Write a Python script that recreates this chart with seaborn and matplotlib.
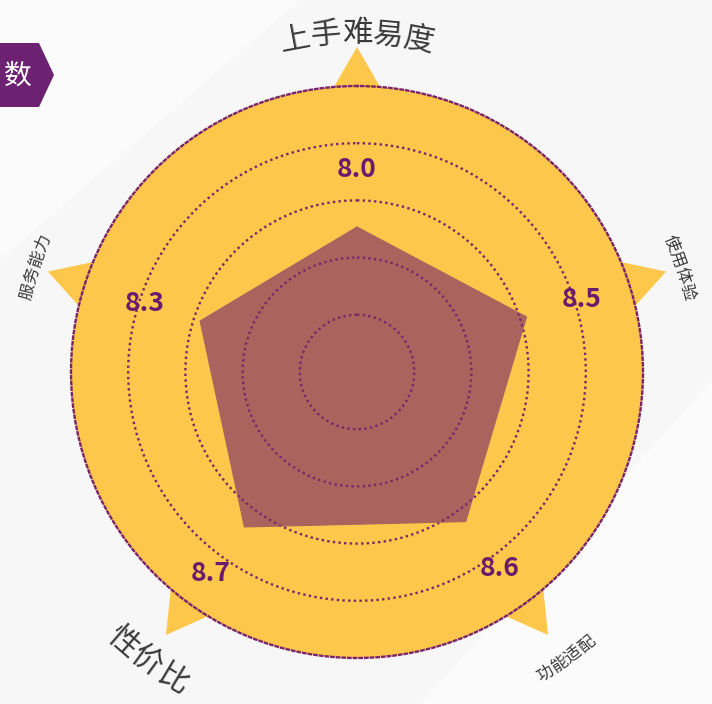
import numpy as np
import pandas as pd
import matplotlib.pyplot as plt
from matplotlib.patches import Polygon
import seaborn as sns

categories = ['上手难易度', '使用体验', '功能适配', '性价比', '服务能力']
scores = [8.0, 8.5, 8.6, 8.7, 8.3]
label_sizes = [22, 12, 12, 22, 12]

YELLOW = '#fdc74b'
BROWN = '#a9645e'
PURPLE = '#6a1b6c'
DOT = '#7a2569'

sns.set_theme(style='white')
plt.rcParams['font.family'] = ['Noto Sans CJK SC', 'DejaVu Sans']

W, H = 712, 704
cx, cy, R = 357, 372, 286          # centre and radius of the disc, in pixels
rmin, rmax = 5.82, 10.12

fig = plt.figure(figsize=(W / 100, H / 100), dpi=100)
fig.patch.set_facecolor('#f7f7f7')

# background layer: star points and the corner tag
bg = fig.add_axes([0, 0, 1, 1])
bg.set_xlim(0, W)
bg.set_ylim(H, 0)
bg.axis('off')
bg.add_patch(Polygon([(0, 0), (300, 0), (0, 260)], color='white', alpha=0.5, lw=0))
bg.add_patch(Polygon([(712, 380), (712, 704), (420, 704)], color='white', alpha=0.5, lw=0))

n = len(categories)
thetas = np.arange(n) * 2 * np.pi / n
for t in thetas:
    ux, uy = np.sin(t), -np.cos(t)        # screen direction of the axis
    px, py = -uy, ux
    tip = (cx + 325 * ux, cy + 325 * uy)
    half = (325 - 190) * np.tan(np.radians(30))
    b1 = (cx + 190 * ux + half * px, cy + 190 * uy + half * py)
    b2 = (cx + 190 * ux - half * px, cy + 190 * uy - half * py)
    bg.add_patch(Polygon([tip, b1, b2], color=YELLOW, lw=0))

bg.add_patch(Polygon([(0, 43), (39, 43), (54, 75), (39, 107), (0, 107)], color='#6d2171', lw=0))
bg.text(18, 76, '数', color='white', fontsize=20, ha='center', va='center')

# radar
ax = fig.add_axes([(cx - R) / W, (H - cy - R) / H, 2 * R / W, 2 * R / H], projection='polar')
ax.set_facecolor(YELLOW)
ax.set_theta_zero_location('N')
ax.set_theta_direction(-1)
ax.set_ylim(rmin, rmax)
ax.set_axisbelow('line')
ax.set_xticks([])
ax.set_yticks(rmin + (rmax - rmin) * np.array([0.2, 0.4, 0.6, 0.8]))
ax.set_yticklabels([])
ax.yaxis.grid(True, color=DOT, linestyle=(0, (1, 1.4)), linewidth=1.7)
ax.xaxis.grid(False)
ax.spines['polar'].set_color(DOT)
ax.spines['polar'].set_linestyle((0, (1, 1.4)))
ax.spines['polar'].set_linewidth(1.7)

df = pd.DataFrame({'theta': np.append(thetas, thetas[0]),
                   'score': scores + scores[:1]})
ax.fill(df['theta'], df['score'], color=BROWN, lw=0, zorder=1)
sns.lineplot(data=df, x='theta', y='score', sort=False, estimator=None,
             color=BROWN, lw=0.8, ax=ax)
ax.set_xlabel('')
ax.set_ylabel('')

for t, v in zip(thetas, scores):
    ax.text(t, v + 0.87, f'{v:.1f}', color=PURPLE, fontsize=19, fontweight='bold',
            ha='center', va='center', zorder=5)


def px2r(p):
    return rmin + p * (rmax - rmin) / R


label_r = [338, 339, 356, 358, 339]
for name, t, rp, fs in zip(categories, thetas, label_r, label_sizes):
    deg = np.degrees(t)
    step = (fs * 1.42) / rp          # angular spacing between characters
    k = len(name)
    offs = (np.arange(k) - (k - 1) / 2) * step
    top = not (90 < deg % 360 < 270)
    for i, ch in enumerate(name):
        if top:
            tc = t + offs[i]
            rot = -np.degrees(tc)
        else:
            tc = t - offs[i]
            rot = 180 - np.degrees(tc)
        ax.text(tc, px2r(rp), ch, fontsize=fs, color='#3a3a3a', rotation=rot,
                rotation_mode='anchor', ha='center', va='center', clip_on=False)

fig.savefig('out.png', dpi=100, facecolor=fig.get_facecolor())
